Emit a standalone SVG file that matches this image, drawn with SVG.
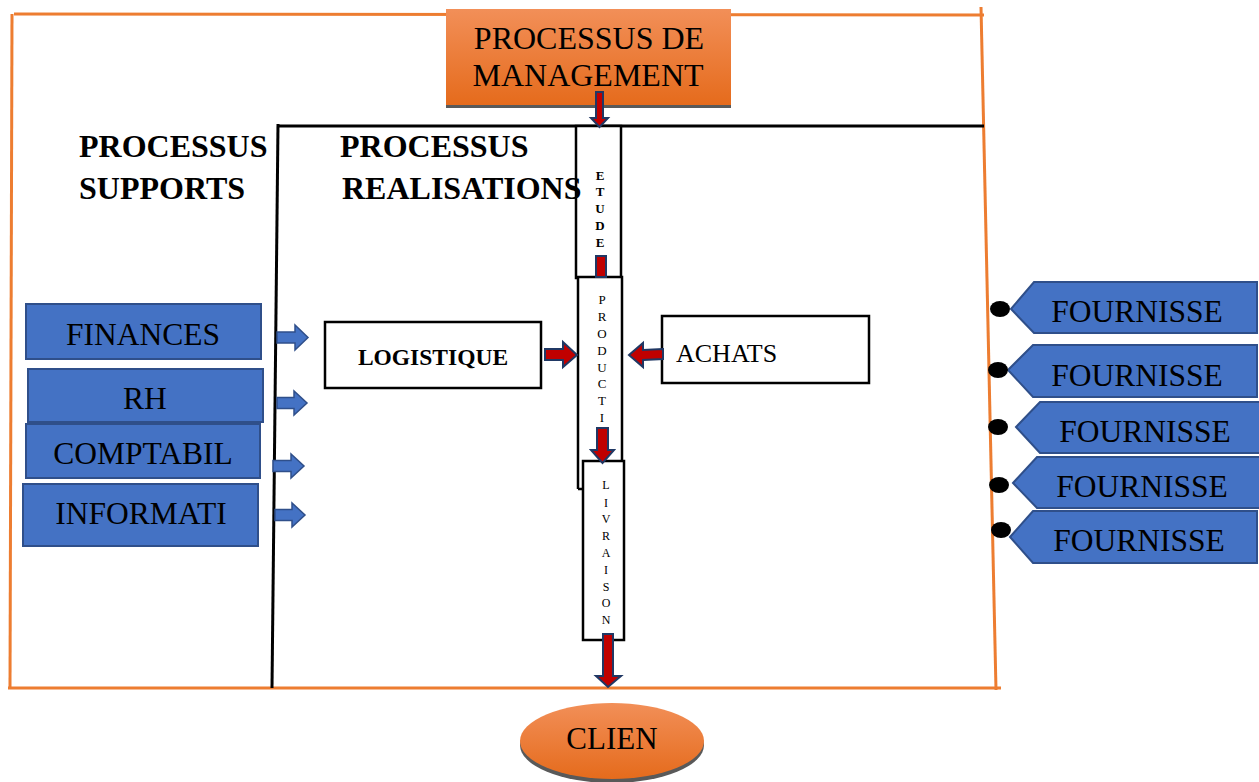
<svg xmlns="http://www.w3.org/2000/svg" width="1259" height="782" viewBox="0 0 1259 782">
<defs>
<linearGradient id="og" x1="0" y1="0" x2="0" y2="1">
<stop offset="0" stop-color="#f28f58"/>
<stop offset="1" stop-color="#e56b1c"/>
</linearGradient>
<style>
.t{font-family:"Liberation Serif","Times New Roman",serif;fill:#000}
.b{font-weight:bold}
.blue{fill:#4472c4;stroke:#2f4f8a;stroke-width:2}
.box{fill:#fff;stroke:#000;stroke-width:2.5}
.ra{fill:#c00000;stroke:#203864;stroke-width:2;stroke-linejoin:miter}
.ba{fill:#4472c4;stroke:#2f4f8a;stroke-width:1.5}
.or{stroke:#ed7d31;stroke-width:3;fill:none}
.bl{stroke:#000;stroke-width:3;fill:none}
.dot{fill:#000}
.sm{font-size:13px}
</style>
</defs>
<rect width="1259" height="782" fill="#fff"/>

<g id="frame">
<line class="or" x1="14" y1="14" x2="984" y2="15"/>
<line class="or" x1="12" y1="14" x2="10" y2="688"/>
<line class="or" x1="981" y1="7" x2="996" y2="690"/>
<line class="or" x1="8" y1="688" x2="1001" y2="688"/>
<line class="bl" x1="277" y1="126" x2="984" y2="126"/>
<line class="bl" x1="278" y1="124" x2="272" y2="688"/>
</g>

<g id="management">
<rect x="446" y="12" width="285" height="96" fill="#595959"/>
<rect x="446" y="9" width="285" height="96" fill="url(#og)"/>
<text class="t" x="589" y="49" font-size="32" text-anchor="middle">PROCESSUS DE</text>
<text class="t" x="588" y="86" font-size="32" text-anchor="middle">MANAGEMENT</text>
</g>

<g id="titles">
<text class="t b" x="79" y="157" font-size="32">PROCESSUS</text>
<text class="t b" x="79" y="199" font-size="32">SUPPORTS</text>
<text class="t b" x="340" y="157" font-size="32">PROCESSUS</text>
</g>

<g id="etude">
<rect class="box" x="576" y="126" width="45" height="152"/>
<g class="t b sm" text-anchor="middle">
<text x="600" y="180">E</text>
<text x="600" y="196">T</text>
<text x="600" y="213">U</text>
<text x="600" y="230">D</text>
<text x="600" y="247">E</text>
</g>
</g>

<g id="realisations-title">
<text class="t b" x="342" y="199" font-size="32">REALISATIONS</text>
</g>

<g id="production">
<path class="box" d="M578,489 L578,277 L622,277 L622,489"/>
<line x1="578" y1="489" x2="584" y2="489" stroke="#000" stroke-width="2.5"/>
<g class="t sm" text-anchor="middle">
<text x="602" y="304">P</text>
<text x="602" y="321">R</text>
<text x="602" y="338">O</text>
<text x="602" y="355">D</text>
<text x="602" y="372">U</text>
<text x="602" y="388">C</text>
<text x="602" y="405">T</text>
<text x="602" y="422">I</text>
</g>
</g>

<g id="livraison">
<rect class="box" x="583" y="461" width="41" height="179"/>
<g class="t" font-size="12" text-anchor="middle">
<text x="606" y="489">L</text>
<text x="606" y="507">I</text>
<text x="606" y="523">V</text>
<text x="606" y="540">R</text>
<text x="606" y="557">A</text>
<text x="606" y="574">I</text>
<text x="606" y="591">S</text>
<text x="606" y="607">O</text>
<text x="606" y="624">N</text>
</g>
</g>

<g id="logistique">
<rect class="box" x="325" y="322" width="216" height="66"/>
<text class="t b" x="433" y="365" font-size="23.5" text-anchor="middle">LOGISTIQUE</text>
</g>

<g id="achats">
<rect class="box" x="662" y="316" width="207" height="67"/>
<text class="t" x="676" y="362" font-size="26">ACHATS</text>
</g>

<g id="finances">
<rect class="blue" x="26" y="304" width="235" height="55"/>
<text class="t" x="143" y="345" font-size="31.5" text-anchor="middle">FINANCES</text>
</g>
<g id="rh">
<rect class="blue" x="28" y="369" width="235" height="53"/>
<text class="t" x="145" y="409" font-size="31.5" text-anchor="middle">RH</text>
</g>
<g id="comptabil">
<rect class="blue" x="26" y="424" width="234" height="54"/>
<text class="t" x="143" y="464" font-size="31.5" text-anchor="middle">COMPTABIL</text>
</g>
<g id="informati">
<rect class="blue" x="23" y="484" width="235" height="62"/>
<text class="t" x="141" y="524" font-size="31.5" text-anchor="middle">INFORMATI</text>
</g>

<g id="fournisseurs">
<g id="f1">
<path class="blue" d="M1011,309 L1034,282 L1257,282 L1257,333 L1034,333 Z"/>
<ellipse class="dot" cx="1000" cy="309" rx="10" ry="8"/>
<text class="t" x="1137" y="322" font-size="31.5" text-anchor="middle">FOURNISSE</text>
</g>
<g id="f2">
<path class="blue" d="M1008,370 L1033,345 L1257,345 L1257,397 L1033,397 Z"/>
<ellipse class="dot" cx="998" cy="370" rx="10" ry="8"/>
<text class="t" x="1137" y="386" font-size="31.5" text-anchor="middle">FOURNISSE</text>
</g>
<g id="f3">
<path class="blue" d="M1016,427 L1040,402 L1262,402 L1262,453 L1040,453 Z"/>
<ellipse class="dot" cx="998" cy="427" rx="10" ry="8"/>
<text class="t" x="1145" y="442" font-size="31.5" text-anchor="middle">FOURNISSE</text>
</g>
<g id="f4">
<path class="blue" d="M1013,483 L1037,457 L1262,457 L1262,508 L1037,508 Z"/>
<ellipse class="dot" cx="999" cy="485" rx="10" ry="8"/>
<text class="t" x="1142" y="497" font-size="31.5" text-anchor="middle">FOURNISSE</text>
</g>
<g id="f5">
<path class="blue" d="M1010,537 L1033,511 L1257,511 L1257,563 L1033,563 Z"/>
<ellipse class="dot" cx="1001" cy="530" rx="10" ry="8"/>
<text class="t" x="1139" y="551" font-size="31.5" text-anchor="middle">FOURNISSE</text>
</g>
</g>

<g id="client">
<ellipse cx="612" cy="745" rx="92" ry="38" fill="#595959"/>
<ellipse cx="612" cy="741" rx="92" ry="38" fill="url(#og)"/>
<text class="t" x="612" y="749" font-size="31" text-anchor="middle">CLIEN</text>
</g>

<g id="connectors">
<path class="ra" d="M596,92 L603,92 L603,118 L608,118 L599.5,127 L591,118 L596,118 Z"/>
<rect class="ra" x="596" y="256" width="10" height="21"/>
<path class="ra" d="M597,428 L608,428 L608,450 L614,450 L602.5,463 L591,450 L597,450 Z"/>
<path class="ra" d="M603,634 L613,634 L613,676 L621,676 L608,687 L596,676 L603,676 Z"/>
<path class="ra" d="M545,349 L563,349 L563,342 L577,355 L563,367 L563,360 L545,360 Z"/>
<path class="ra" d="M663,349 L643,350 L643,343 L629,355 L643,367 L643,360 L663,359 Z"/>
<path class="ba" d="M277,332 L295,332 L295,325 L308,337.5 L295,350 L295,343 L277,343 Z"/>
<path class="ba" d="M277,397.5 L294,397.5 L294,391 L307,403 L294,415 L294,408.5 L277,408.5 Z"/>
<path class="ba" d="M273,460.5 L291,460.5 L291,454 L304,466 L291,478 L291,471.5 L273,471.5 Z"/>
<path class="ba" d="M275,509.5 L292,509.5 L292,503 L305,515 L292,527 L292,520.5 L275,520.5 Z"/>
</g>
</svg>
